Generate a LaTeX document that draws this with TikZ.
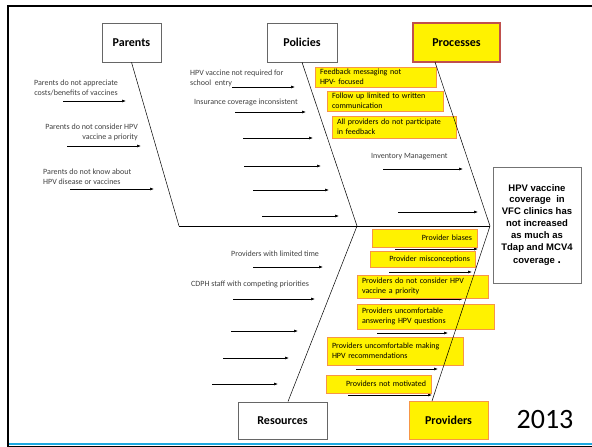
\documentclass[tikz,border=0pt]{standalone}
\usepackage{fontspec}
\setmainfont{Carlito}
\newfontfamily\efffont{Liberation Sans}
\usepackage{xcolor}
\usepackage{tikz}
\usetikzlibrary{arrows.meta}
\definecolor{boxorange}{HTML}{F79646}
\definecolor{boxred}{HTML}{C0504D}
\definecolor{barblue}{HTML}{1DA9E1}
\definecolor{labelgray}{HTML}{404040}

\tikzset{
  catbox/.style={rectangle,draw=black!60,fill=white,line width=0.6pt,font=\fontsize{12}{14}\selectfont\bfseries},
  ycatbox/.style={catbox,fill=yellow,line width=1.4pt},
  ybox/.style={rectangle,draw=boxorange,fill=yellow,line width=0.8pt,inner xsep=5pt,inner ysep=1pt,font=\fontsize{8}{9.8}\selectfont},
  lbl/.style={inner sep=0pt,text=labelgray,font=\fontsize{8}{10}\selectfont},
  cause/.style={-{Latex[length=4pt,width=3pt]},line width=0.6pt},
  bone/.style={line width=0.5pt},
}

\begin{document}
\begin{tikzpicture}[x=1pt,y=-1pt]
\useasboundingbox (0,0) rectangle (592,447);

\draw[line width=2.5pt] (7,6) -- (592,6);
\draw[line width=2.5pt] (8,5) -- (8,447);
\draw[line width=1.5pt] (8,446.5) -- (592,446.5);
\draw[barblue,line width=2pt] (9,444) -- (592,444);

\foreach \n/\xa/\xb/\y in {1/63/126/101, 2/67/141/146, 3/70/154/189,
    4/232/295/87, 5/235/306/112, 6/243/313/138, 7/244/321/166, 8/253/329/190, 9/262/339/216,
    10/383/463/169, 11/398/478/212,
    12/253/323/267, 13/233/315/299, 14/231/298/331, 15/223/289/358, 16/212/278/384,
    17/395/478/249, 18/389/472/272, 19/380/463/299, 20/377/448/333, 21/356/438/369, 22/348/432/395}
{
  \coordinate (s\n) at (\xa,\y);
  \coordinate (e\n) at (\xb,\y);
  \draw[cause] (s\n) -- (e\n);
}

\node at (131.5,42.5) [catbox,minimum width=59pt,minimum height=39pt] (par)  {Parents};
\node at (302,42.5)   [catbox,minimum width=70pt,minimum height=39pt] (pol)  {Policies};
\node at (456.5,42.5) [ycatbox,draw=boxred,minimum width=87pt,minimum height=39pt] (proc) {Processes};
\node at (282.5,420.5) [catbox,minimum width=89pt,minimum height=37pt] (res)  {Resources};
\node at (448.5,420)  [ycatbox,draw=boxorange,line width=1pt,minimum width=79pt,minimum height=38pt] (prov) {Providers};

\node at (537,225) [rectangle,draw=black!55,line width=0.8pt,minimum width=88pt,minimum height=116pt,align=center,
  font=\efffont\bfseries\fontsize{9.5}{11.8}\selectfont] (eff)
  {HPV vaccine\\coverage~ in\\VFC clinics has\\not increased\\as much as\\Tdap and MCV4\\[2pt]coverage {\large .}};

\node at (545,420) [inner sep=0pt,font=\fontsize{28}{30}\selectfont] (year) {2013};

\node at (76,87.5)   [lbl,align=center]       (pa1) {Parents do not appreciate\\costs/benefits of vaccines};
\node at (138,132)   [lbl,align=right,anchor=east] (pa2) {Parents do not consider HPV\\vaccine a priority};
\node at (43,176.5)  [lbl,align=left,anchor=west]  (pa3) {Parents do not know about\\HPV disease or vaccines};

\node at (190,78)    [lbl,align=left,anchor=west]  (po1) {HPV vaccine not required for\\school~ entry};
\node at (194,102)   [lbl,anchor=west]             (po2) {Insurance coverage inconsistent};

\node at (375.5,77)  [ybox,text width=111pt,minimum height=20pt,align=left] (fb1) {Feedback messaging not\\HPV- focused};
\node at (385,101)   [ybox,text width=106pt,minimum height=20pt,align=left] (fb2) {Follow up limited to written\\communication};
\node at (394,127)   [ybox,text width=114pt,minimum height=22pt,align=left] (fb3) {All providers do not participate\\in feedback};
\node at (371,157)   [lbl,anchor=west]             (inv) {Inventory Management};

\node at (231,254)   [lbl,anchor=west]             (re1) {Providers with limited time};
\node at (191,284)   [lbl,anchor=west]             (re2) {CDPH staff with competing priorities};

\node at (424.5,238) [ybox,text width=95pt,minimum height=18pt,align=right] (pb1) {Provider biases};
\node at (422.5,259) [ybox,text width=95pt,minimum height=16pt,align=right] (pb2) {Provider misconceptions};
\node at (422.5,286.5) [ybox,text width=121pt,minimum height=23pt,align=left] (pb3) {Providers do not consider HPV\\vaccine a priority};
\node at (425.5,316.5) [ybox,text width=127pt,minimum height=25pt,align=left] (pb4) {Providers uncomfortable\\answering HPV questions};
\node at (395,351)   [ybox,text width=126pt,minimum height=28pt,align=left] (pb5) {Providers uncomfortable making\\HPV recommendations};
\node at (378.5,384) [ybox,text width=95pt,minimum height=18pt,align=right] (pb6) {Providers not motivated};

\coordinate (j1)      at (179,226);
\coordinate (j2)      at (357,226);
\coordinate (tip)     at (490,226);
\coordinate (proctop) at (435,62);
\coordinate (restop)  at (288,401.5);
\coordinate (provtop) at (432,401);

\draw[bone] (par.south) -- (j1);
\draw[bone] (pol.south) -- (j2);
\draw[bone] (proctop) -- (tip);
\draw[bone] (j2) -- (restop);
\draw[bone] (tip) -- (provtop);
\draw[line width=1pt] (j1) -- (tip);
\end{tikzpicture}
\end{document}
